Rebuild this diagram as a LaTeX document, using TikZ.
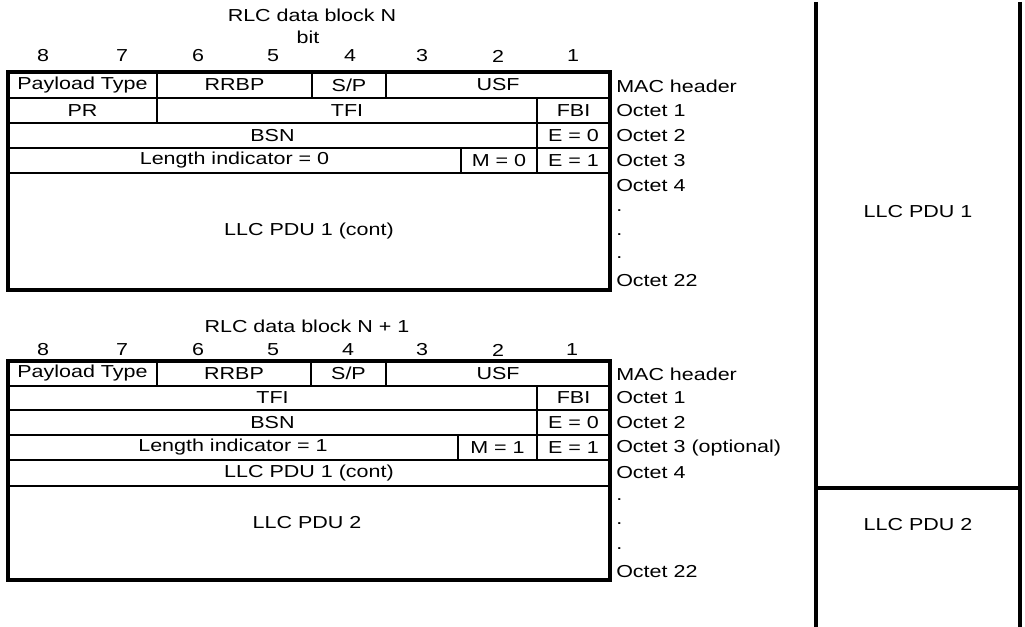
\documentclass[tikz,border=0pt]{standalone}
\usepackage{fontspec}
\setmainfont{Liberation Sans}[FakeStretch=1.24]
\usetikzlibrary{calc}
\newcommand\cellbox[6]{\draw[cell] (#2,#3) rectangle (#4,#5);
  \node (#1) at ($(#2,#3)!0.5!(#4,#5)$) {#6};}
\begin{document}
\begin{tikzpicture}[x=0.75pt,y=-0.75pt,
  every node/.style={font=\fontsize{13pt}{15pt}\selectfont, inner sep=0pt},
  cell/.style={draw, line width=2pt},
  frame/.style={draw, line width=2.6pt},
  lbl/.style={anchor=west},
  rule/.style={line width=2.6pt}]
\useasboundingbox (0,0) rectangle (1025,627);

% ---------- Block N ----------
\node (titleA) at (312,15) {RLC data block N};
\node (bitA) at (308,37) {bit};
\foreach \n/\x in {8/43,7/122,6/198,5/273,4/350,3/422,2/498,1/573}
  \node (bA\n) at (\x,56) {\n};

\cellbox{ptA}{8}{72}{157}{98}{Payload Type}
\cellbox{rrbpA}{157}{72}{312}{98}{RRBP}
\cellbox{spA}{312}{72}{386}{98}{S/P}
\cellbox{usfA}{386}{72}{610}{98}{USF}
\cellbox{prA}{8}{98}{157}{123}{PR}
\cellbox{tfiA}{157}{98}{537}{123}{TFI}
\cellbox{fbiA}{537}{98}{610}{123}{FBI}
\cellbox{bsnA}{8}{123}{537}{148}{BSN}
\cellbox{e0A}{537}{123}{610}{148}{E = 0}
\cellbox{liA}{8}{148}{461}{173}{Length indicator = 0}
\cellbox{mA}{461}{148}{537}{173}{M = 0}
\cellbox{e1A}{537}{148}{610}{173}{E = 1}
\cellbox{pduA}{8}{173}{610}{290}{LLC PDU 1 (cont)}
\draw[frame] (8,72) rectangle (610,290);

\node[lbl] (macA) at (616,86) {MAC header};
\node[lbl] (o1A) at (616,111) {Octet 1};
\node[lbl] (o2A) at (616,136) {Octet 2};
\node[lbl] (o3A) at (616,161) {Octet 3};
\node[lbl] (o4A) at (616,186) {Octet 4};
\node[lbl] (d1A) at (616,211) {.};
\node[lbl] (d2A) at (616,235) {.};
\node[lbl] (d3A) at (616,258) {.};
\node[lbl] (o22A) at (616,281) {Octet 22};

% ---------- Block N+1 ----------
\node (titleB) at (307,326) {RLC data block N + 1};
\foreach \n/\x in {8/43,7/122,6/198,5/273,4/348,3/422,2/498,1/572}
  \node (bB\n) at (\x,350) {\n};

\cellbox{ptB}{8}{361}{157}{386}{Payload Type}
\cellbox{rrbpB}{157}{361}{311}{386}{RRBP}
\cellbox{spB}{311}{361}{386}{386}{S/P}
\cellbox{usfB}{386}{361}{610}{386}{USF}
\cellbox{tfiB}{8}{386}{537}{410}{TFI}
\cellbox{fbiB}{537}{386}{610}{410}{FBI}
\cellbox{bsnB}{8}{410}{537}{435}{BSN}
\cellbox{e0B}{537}{410}{610}{435}{E = 0}
\cellbox{liB}{8}{435}{458}{460}{Length indicator = 1}
\cellbox{mB}{458}{435}{537}{460}{M = 1}
\cellbox{e1B}{537}{435}{610}{460}{E = 1}
\cellbox{contB}{8}{460}{610}{486}{LLC PDU 1 (cont)}
\draw[cell] (8,486) rectangle (610,580);
\node (pduB) at (307,523) {LLC PDU 2};
\draw[frame] (8,361) rectangle (610,580);

\node[lbl] (macB) at (616,374) {MAC header};
\node[lbl] (o1B) at (616,398) {Octet 1};
\node[lbl] (o2B) at (616,423) {Octet 2};
\node[lbl] (o3B) at (616,448) {Octet 3 (optional)};
\node[lbl] (o4B) at (616,473) {Octet 4};
\node[lbl] (d1B) at (616,500) {.};
\node[lbl] (d2B) at (616,524) {.};
\node[lbl] (d3B) at (616,549) {.};
\node[lbl] (o22B) at (616,572) {Octet 22};

% ---------- Right column ----------
\coordinate (lt) at (816,2);
\coordinate (lb) at (816,627);
\coordinate (rt) at (1020,2);
\coordinate (rb) at (1020,627);
\coordinate (ml) at (816,488);
\coordinate (mr) at (1020,488);
\draw[rule] (lt) -- (lb);
\draw[rule] (rt) -- (rb);
\draw[rule] (ml) -- (mr);
\node (llc1) at (918,212) {LLC PDU 1};
\node (llc2) at (918,525) {LLC PDU 2};
\end{tikzpicture}
\end{document}
